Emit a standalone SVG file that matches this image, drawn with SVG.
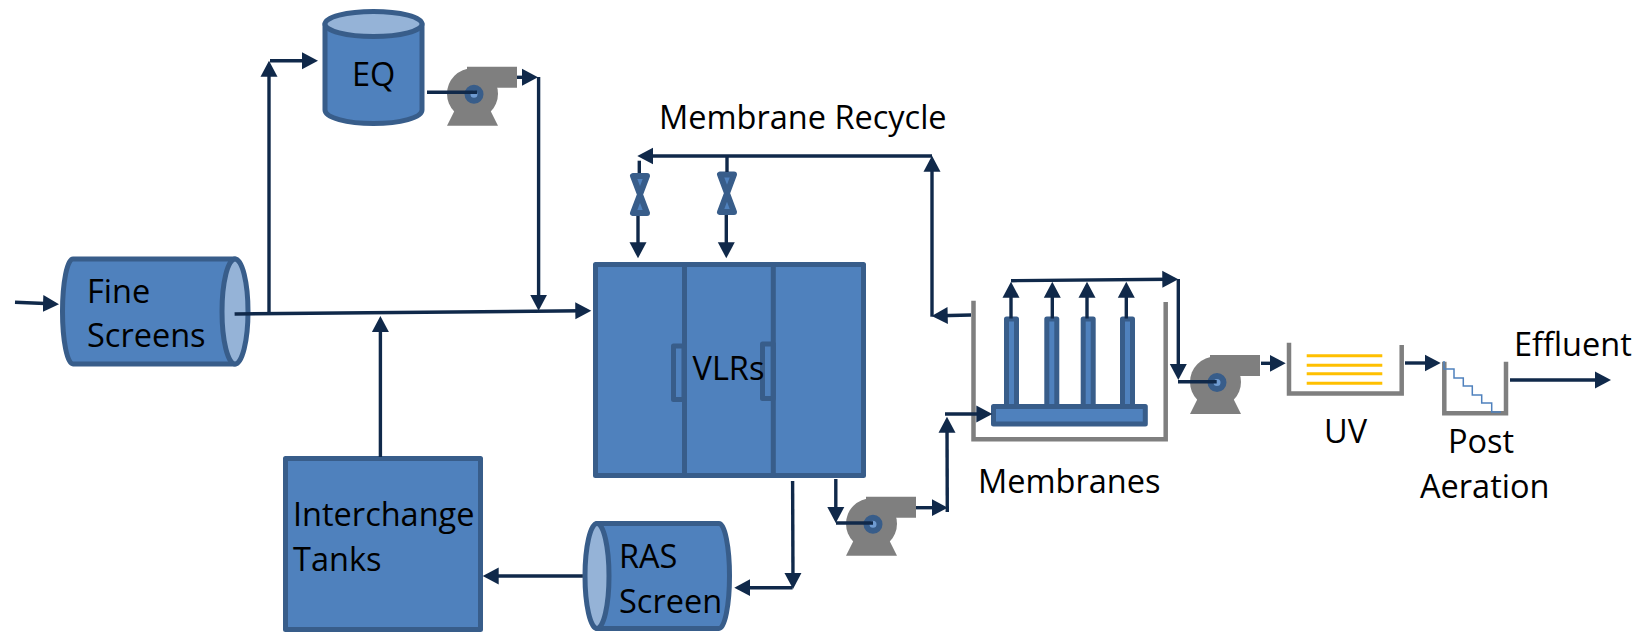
<svg xmlns="http://www.w3.org/2000/svg" width="1637" height="632" viewBox="0 0 1637 632">
<style>
.n{fill:#4f81bd;stroke:#385d8a;stroke-width:5;stroke-linejoin:round}
.l{fill:#95b3d7;stroke:#385d8a;stroke-width:5}
.g{fill:none;stroke:#7f7f7f;stroke-width:4.5}
.p{fill:#7f7f7f}
.h{fill:#6f9bd1;stroke:#385d8a;stroke-width:6}
.c path{fill:none;stroke:#10294a;stroke-width:3.4}
.a{marker-end:url(#ah)}
.y{stroke:#ffc000;stroke-width:3;fill:none}
text{font-family:"Open Sans","Liberation Sans",sans-serif;font-size:32.500px;fill:#000}
</style>
<defs>
<marker id="ah" markerUnits="userSpaceOnUse" markerWidth="18" markerHeight="18" refX="8" refY="9" orient="auto"><path d="M0,0.500 L16,9 L0,17.500 Z" fill="#10294a"/></marker>
<g id="pump-shape">
<circle class="p" cx="25.500" cy="27" r="25.500"/>
<path class="p" d="M20,0H70V21H20Z"/>
<path class="p" d="M8,43H43L51,59H0Z"/>
<circle class="h" cx="27" cy="27.500" r="6.500"/>
</g>
</defs>
<g id="fine-screens"><path class="n" d="M235,259H73A10.500,52.500 0 0 0 73,364H235Z"/><ellipse class="l" cx="235" cy="311.500" rx="13" ry="52.500"/><text x="87" y="303">Fine</text><text x="87" y="347">Screens</text></g>
<g id="eq"><path class="n" d="M325,24V110A48.500,13.500 0 0 0 422,110V24Z"/><ellipse class="l" cx="373.500" cy="24" rx="48.500" ry="12.500"/><text x="352" y="86">EQ</text></g>
<g id="pump-1"><use href="#pump-shape" x="447" y="66.700"/></g>
<g id="pump-2"><use href="#pump-shape" x="846" y="496.700"/></g>
<g id="pump-3"><use href="#pump-shape" x="1190" y="355"/></g>
<g id="vlrs"><rect class="n" x="595.500" y="264.500" width="268" height="211"/><path class="n" d="M684,346H673.500V399.500H684ZM773.300,344H762.500V398.500H773.300Z"/><path class="n" style="fill:none" d="M684.500,264.500V475.500M773.300,264.500V475.500"/><text x="692.500" y="380">VLRs</text></g>
<g id="interchange-tanks"><rect class="n" x="285.500" y="458.500" width="195" height="171"/><text x="293" y="526">Interchange</text><text x="293" y="571">Tanks</text></g>
<g id="ras-screen"><path class="n" d="M597,523.500H719A10.500,52.500 0 0 1 719,628.500H597Z"/><ellipse class="l" cx="597" cy="576" rx="12" ry="52.500"/><text x="619" y="568">RAS</text><text x="619" y="613">Screen</text></g>
<g id="valve-1"><path class="n" style="stroke-width:6" d="M633,176H647L633,213H647Z"/></g>
<g id="valve-2"><path class="n" style="stroke-width:6" d="M720,174.500H734L720,212H734Z"/></g>
<g id="membranes">
<path class="g" d="M973.500,300.700V439.300H1165.700V302"/>
<rect class="n" x="1006.500" y="319" width="10" height="90"/><rect class="n" x="1046.800" y="319" width="10" height="90"/><rect class="n" x="1083.200" y="319" width="10" height="90"/><rect class="n" x="1122.500" y="319" width="10" height="90"/>
<rect class="n" x="993.500" y="406.500" width="151.800" height="17.500"/>
<text x="978" y="493">Membranes</text></g>
<g id="uv"><path class="g" d="M1289,342.700V393.500H1401.700V345"/><path class="y" d="M1306.700,355.700H1382.300M1306.700,365.300H1382.300M1306.700,373.700H1382.300M1306.700,383.300H1382.300"/><text x="1324" y="443">UV</text></g>
<g id="post-aeration"><path class="g" d="M1444.300,361.700V413.300H1506V361.700"/><path d="M1444,361V369H1454V378H1463.300V386H1472.300V395H1481.700V403H1491.700V412H1501" fill="none" stroke="#4f81bd" stroke-width="1.500"/><text x="1448" y="453">Post</text><text x="1420" y="498">Aeration</text></g>
<g id="labels"><text x="659" y="129">Membrane Recycle</text><text x="1514" y="356">Effluent</text></g>
<g id="connectors" class="c">
<path class="a" d="M15,302.300L51,303.800"/>
<path class="a" d="M269,313V68.700"/>
<path class="a" d="M270,60.700H310"/>
<path d="M427,92.300H477"/>
<path class="a" d="M517,77.300H530"/>
<path class="a" d="M538.600,77V302.700"/>
<path class="a" d="M234.600,314L583.300,310.800"/>
<path class="a" d="M380.400,457V324"/>
<path class="a" d="M582.800,576H490.700"/>
<path class="a" d="M792.600,481L793,581"/>
<path class="a" d="M792.600,587.700H742.300"/>
<path class="a" d="M835.800,479V515"/>
<path d="M836,523H873"/>
<path class="a" d="M916,507.700H939.800"/>
<path class="a" d="M947.300,512L947,424.700"/>
<path class="a" d="M945,414H984.300"/>
<path class="a" d="M971,315L939.700,315.700"/>
<path class="a" d="M932,316.700V163.700"/>
<path class="a" d="M932,156H645.300"/>
<path d="M639.300,160.700V173"/>
<path class="a" d="M638,216V250.300"/>
<path d="M727,156V172"/>
<path class="a" d="M726.300,215V250.300"/>
<path class="a" d="M1011,318.500V289.700"/>
<path class="a" d="M1052.300,318.500V289.700"/>
<path class="a" d="M1087,318.500V289.700"/>
<path class="a" d="M1126.300,318.500V289.700"/>
<path class="a" d="M1011,280.700L1170.300,279.300"/>
<path class="a" d="M1178.300,279V372"/>
<path d="M1178,381.700H1216.700"/>
<path class="a" d="M1261,363.300H1277.700"/>
<path class="a" d="M1405,363H1432.700"/>
<path class="a" d="M1510,380H1603"/>
</g>
</svg>
